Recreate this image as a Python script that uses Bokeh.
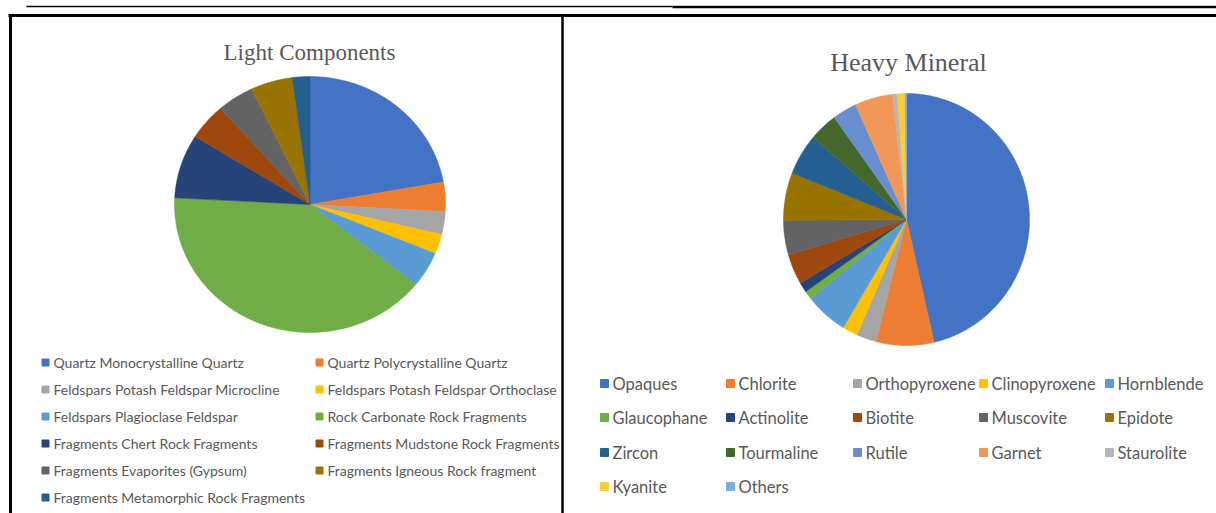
import numpy as np
from bokeh.plotting import figure
from bokeh.models import Range1d, ColumnDataSource
from bokeh.core.properties import value
from bokeh.embed import file_html
from bokeh.resources import INLINE

# ---- data -------------------------------------------------------------
light_title = "Light Components"
light_labels = [
    "Quartz Monocrystalline Quartz",
    "Quartz Polycrystalline Quartz",
    "Feldspars Potash Feldspar Microcline",
    "Feldspars Potash Feldspar Orthoclase",
    "Feldspars Plagioclase Feldspar",
    "Rock Carbonate Rock Fragments",
    "Fragments Chert Rock Fragments",
    "Fragments Mudstone Rock Fragments",
    "Fragments Evaporites (Gypsum)",
    "Fragments Igneous Rock fragment",
    "Fragments Metamorphic Rock Fragments",
]
light_values = [22.2, 3.7, 2.9, 2.5, 4.5, 40.1, 8.1, 4.6, 4.4, 5.0, 2.1]

heavy_title = "Heavy Mineral"
heavy_labels = [
    "Opaques", "Chlorite", "Orthopyroxene", "Clinopyroxene", "Hornblende",
    "Glaucophane", "Actinolite", "Biotite", "Muscovite", "Epidote",
    "Zircon", "Tourmaline", "Rutile", "Garnet", "Staurolite",
    "Kyanite", "Others",
]
heavy_values = [46.4, 7.6, 2.6, 2.0, 5.6, 1.1, 1.3, 3.9, 4.4, 6.1,
                5.3, 3.7, 3.2, 5.0, 0.6, 1.0, 0.2]

# Office series palette
palette = ["#4472C4", "#ED7D31", "#A5A5A5", "#FFC000", "#5B9BD5",
           "#70AD47", "#264478", "#9E480E", "#636363", "#997300",
           "#255E91", "#43682B", "#698ED0", "#F1975A", "#B7B7B7",
           "#FFCD33", "#7CAFDD"]

W, H = 1216, 513
TEXT_GREY = "#595959"

p = figure(width=W, height=H, output_backend="svg", toolbar_location=None,
           x_range=Range1d(0, W), y_range=Range1d(H, 0),
           min_border=0, background_fill_color="white",
           border_fill_color="white", outline_line_color=None)
p.axis.visible = False
p.grid.visible = False


def pie_patches(values, cx, cy, rx, ry):
    """Slices clockwise from 12 o'clock on an ellipse (screen y downward)."""
    vals = np.asarray(values, dtype=float)
    frac = vals / vals.sum()
    ends = np.cumsum(frac) * 2 * np.pi
    starts = ends - frac * 2 * np.pi
    xs, ys = [], []
    for a0, a1 in zip(starts, ends):
        n = max(4, int(np.degrees(a1 - a0)) * 2)
        t = np.linspace(a0, a1, n)
        xs.append([cx] + list(cx + rx * np.sin(t)))
        ys.append([cy] + list(cy - ry * np.cos(t)))
    return xs, ys


def draw_pie(values, cx, cy, rx, ry):
    xs, ys = pie_patches(values, cx, cy, rx, ry)
    src = ColumnDataSource(dict(xs=xs, ys=ys, c=palette[:len(values)]))
    p.patches("xs", "ys", source=src, fill_color="c", line_color="c",
              line_width=0.5)


def draw_legend(labels, x_cols, y_rows, ncols, font_size, mark_size, gap):
    mx, my, tx, cols = [], [], [], []
    for i, lab in enumerate(labels):
        r, c = divmod(i, ncols)
        mx.append(x_cols[c])
        my.append(y_rows[r])
        tx.append(x_cols[c] + gap)
        cols.append(palette[i])
    p.scatter(mx, my, marker="square", size=mark_size, fill_color=cols,
              line_color=cols)
    p.text(tx, my, text=labels, text_font=value("Lato"),
           text_font_size=font_size, text_baseline="middle",
           text_align="left", text_color=TEXT_GREY)


# ---- page frame ---------------------------------------------------------
p.line([26, 672], [6, 6], line_color="black", line_width=1.5)
p.line([672, W], [6.5, 6.5], line_color="black", line_width=2.5)
p.line([8, W], [15, 15], line_color="black", line_width=3)
p.line([10, 10], [14, H], line_color="black", line_width=3)
p.line([562, 562], [14, H], line_color="black", line_width=2.5)

# ---- light components -----------------------------------------------------
p.text([309], [52], text=[light_title], text_font=value("Liberation Serif"),
       text_font_size="23px", text_align="center",
       text_baseline="alphabetic", text_color=TEXT_GREY)
draw_pie(light_values, 309.5, 204, 135.5, 128)
draw_legend(light_labels, [45, 319], [362, 389, 416, 443, 470, 497], 2,
            "14px", 7, 8)

# ---- heavy mineral ---------------------------------------------------------
p.text([908], [62], text=[heavy_title], text_font=value("Liberation Serif"),
       text_font_size="26px", text_align="center",
       text_baseline="alphabetic", text_color=TEXT_GREY)
draw_pie(heavy_values, 906, 219, 123, 126)
draw_legend(heavy_labels, [604, 730, 857, 983, 1109], [383, 417, 452, 486], 5,
            "16.5px", 8, 8)

open("out.html", "w").write(file_html(p, INLINE))
